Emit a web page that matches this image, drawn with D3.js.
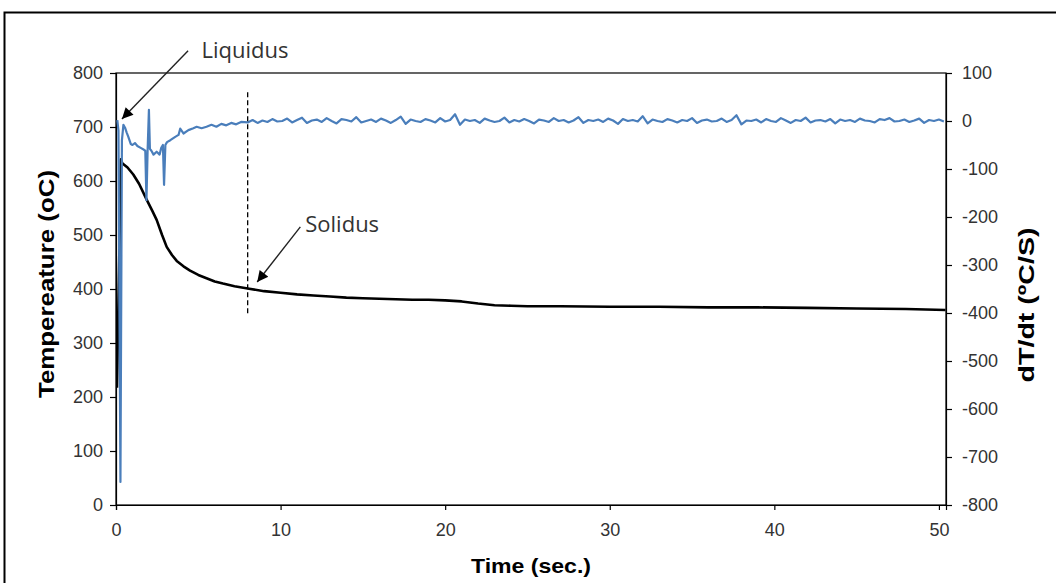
<!DOCTYPE html>
<html><head><meta charset="utf-8">
<script src="https://cdn.jsdelivr.net/npm/d3@7"></script>
<style>body{margin:0;background:#fff}svg{display:block}</style>
</head><body><div id="chart"></div>
<script>
// ---- data ----
const xTicks = [0, 10, 20, 30, 40, 50];
const yLeftTicks = [0, 100, 200, 300, 400, 500, 600, 700, 800];
const yRightTicks = [-800, -700, -600, -500, -400, -300, -200, -100, 0, 100];

// cooling curve: time (s), temperature (oC)
const tempTime = [0.06,0.3,0.38,0.7,1.05,1.4,1.87,2.2,2.47,2.8,3.08,3.4,3.69,4.1,4.5,5.0,5.5,6.0,6.5,7.2,8.0,9.0,10,11,12,13,14,15,16,17,18,19,20,21,22,23,24,25,27,30,33,36,39,42,45,48,50.4];
const tempValue = [217,640,633,625,612,595,565,545,528,500,478,463,452,442,434,426,420,414,410,405,401,396,393,390,388,386,384,383,382,381,380,380,379,377,373,370,369,368,368,367,367,366,366,365,364,363,361];

// first derivative, early part: time (s), dT/dt
const derivTimeEarly = [0.08,0.15,0.27,0.36,0.45,0.55,0.65,0.75,0.9,1.0,1.15,1.3,1.5,1.7,1.78,1.85,1.92,2.0,2.06,2.15,2.28,2.47,2.65,2.75,2.85,2.92,3.0,3.1,3.3,3.6,3.8,3.9,4.1,4.4,4.7,4.9,5.2,5.5,5.8,6.1,6.4,6.7,7.0,7.3,7.6];
const derivValueEarly = [2,-20,-752,-40,-8,-14,-24,-33,-48,-50,-46,-52,-56,-60,-62,-165,-62,23,-58,-62,-70,-64,-70,-56,-50,-133,-50,-44,-40,-33,-29,-16,-26,-19,-15,-12,-15,-12,-8,-12,-6,-9,-4,-7,-2];
// first derivative, later part sampled every 0.3 s from 8.0 s
const derivLateStart = 8.0, derivLateStep = 0.3;
const derivValueLate = [-3,2,-4,1,-2,4,-1,
0,5,-3,2,7,-4,1,3,-2,6,0,-5,4,2,-1,8,-3,0,3,-2,
5,1,-4,2,9,-6,3,0,-2,4,1,-3,6,-1,2,14,-8,3,0,2,
-4,5,1,-2,0,7,-3,2,-1,4,0,-5,3,1,-2,6,0,2,-3,1,
8,-4,2,0,3,-2,5,1,-6,4,0,2,-1,10,-5,3,0,-2,4,1,
-3,2,0,6,-4,1,3,-1,0,5,-2,2,12,-7,1,0,3,-3,4,0,
-2,6,1,-4,2,0,7,-3,1,2,-1,4,-5,3,0,2,-2,5,1,0,-3,4,2,6,-1,
0,3,-2,1,5,-4,2,0,3,-1];

// annotations (data coordinates: time, temperature)
const solidusTime = 8, solidusRange = [355, 765];
const annotations = [
  {label: "Liquidus", text: [5.2, 828], from: [4.38, 841], to: [0.36, 715]},
  {label: "Solidus", text: [11.5, 506], from: [11.2, 515], to: [8.58, 413]}
];

// ---- drawing ----
const W = 1056, H = 583;
const px0 = 116, px1 = 946, py0 = 73, py1 = 505;
const svg = d3.select("#chart").append("svg").attr("width", W).attr("height", H);

const x = d3.scaleLinear().domain([0, 50.43]).range([px0, px1]);
const yL = d3.scaleLinear().domain([0, 800]).range([py1, py0]);
const yR = d3.scaleLinear().domain([-800, 100]).range([py1, py0]);

// outer frame
svg.append("rect").attr("x", 4.5).attr("y", 12.5).attr("width", 1070).attr("height", 600)
  .attr("fill", "none").attr("stroke", "#000").attr("stroke-width", 2);

// plot frame
svg.append("rect").attr("x", px0).attr("y", py0).attr("width", px1 - px0).attr("height", py1 - py0)
  .attr("fill", "none").attr("stroke", "#000").attr("stroke-width", 1.2);

const tickFont = "'Liberation Sans', Arial, sans-serif";
const fmt = d => String(d);
function styleAxis(g) {
  g.select(".domain").attr("stroke", "#000").attr("stroke-width", 1.2);
  g.selectAll(".tick line").attr("stroke", "#000").attr("stroke-width", 1.2);
  g.selectAll(".tick text").attr("font-family", tickFont).attr("font-size", 18).attr("fill", "#333");
}
svg.append("g").attr("transform", `translate(0,${py1})`)
  .call(d3.axisBottom(x).tickValues(xTicks).tickSize(5).tickPadding(13).tickFormat(fmt))
  .call(styleAxis);
svg.append("g").attr("transform", `translate(${px0},0)`)
  .call(d3.axisLeft(yL).tickValues(yLeftTicks).tickSize(6).tickPadding(7).tickFormat(fmt))
  .call(styleAxis);
svg.append("g").attr("transform", `translate(${px1},0)`)
  .call(d3.axisRight(yR).tickValues(yRightTicks).tickSize(6).tickPadding(10).tickFormat(fmt))
  .call(styleAxis);

// titles
svg.append("text").attr("x", 531).attr("y", 573).attr("text-anchor", "middle")
  .attr("font-family", tickFont).attr("font-weight", "bold").attr("font-size", 21)
  .attr("textLength", 120).attr("lengthAdjust", "spacingAndGlyphs").text("Time (sec.)");
svg.append("text").attr("transform", "translate(54,284) rotate(-90)").attr("text-anchor", "middle")
  .attr("font-family", tickFont).attr("font-weight", "bold").attr("font-size", 22)
  .attr("textLength", 228).attr("lengthAdjust", "spacingAndGlyphs").text("Tempereature (oC)");
svg.append("text").attr("transform", "translate(1034,305) rotate(-90)").attr("text-anchor", "middle")
  .attr("font-family", tickFont).attr("font-weight", "bold").attr("font-size", 22)
  .attr("textLength", 155).attr("lengthAdjust", "spacingAndGlyphs").text("dT/dt (ºC/S)");

// series
svg.append("clipPath").attr("id", "clip").append("rect")
  .attr("x", px0).attr("y", py0 - 20).attr("width", px1 - px0).attr("height", py1 - py0 + 20);

const tempData = tempTime.map((t, i) => [t, tempValue[i]]);
const derivData = derivTimeEarly.map((t, i) => [t, derivValueEarly[i]])
  .concat(derivValueLate.map((v, i) => [derivLateStart + i * derivLateStep, v]))
  .filter(d => d[0] <= 50.43);

svg.append("path").datum(tempData).attr("clip-path", "url(#clip)")
  .attr("d", d3.line().x(d => x(d[0])).y(d => yL(d[1])))
  .attr("fill", "none").attr("stroke", "#000").attr("stroke-width", 2.6).attr("stroke-linejoin", "round");

svg.append("path").datum(derivData).attr("clip-path", "url(#clip)")
  .attr("d", d3.line().x(d => x(d[0])).y(d => yR(d[1])))
  .attr("fill", "none").attr("stroke", "#4A7EBB").attr("stroke-width", 2.2).attr("stroke-linejoin", "round");

// solidus dashed line
svg.append("line").attr("x1", x(solidusTime)).attr("x2", x(solidusTime))
  .attr("y1", yL(solidusRange[0])).attr("y2", yL(solidusRange[1]))
  .attr("stroke", "#000").attr("stroke-width", 1.3).attr("stroke-dasharray", "5,3");

// annotation arrows
svg.append("defs").append("marker").attr("id", "arrow").attr("viewBox", "0 0 10 10")
  .attr("refX", 10).attr("refY", 5).attr("markerWidth", 14).attr("markerHeight", 11)
  .attr("markerUnits", "userSpaceOnUse").attr("orient", "auto")
  .append("path").attr("d", "M0,0 L10,5 L0,10 z").attr("fill", "#000");

annotations.forEach(a => {
  svg.append("line").attr("x1", x(a.from[0])).attr("y1", yL(a.from[1]))
    .attr("x2", x(a.to[0])).attr("y2", yL(a.to[1]))
    .attr("stroke", "#222").attr("stroke-width", 1.4).attr("marker-end", "url(#arrow)");
  svg.append("text").attr("x", x(a.text[0])).attr("y", yL(a.text[1]))
    .attr("font-family", "'Open Sans', sans-serif").attr("font-size", 22).attr("fill", "#333")
    .text(a.label);
});
</script></body></html>
